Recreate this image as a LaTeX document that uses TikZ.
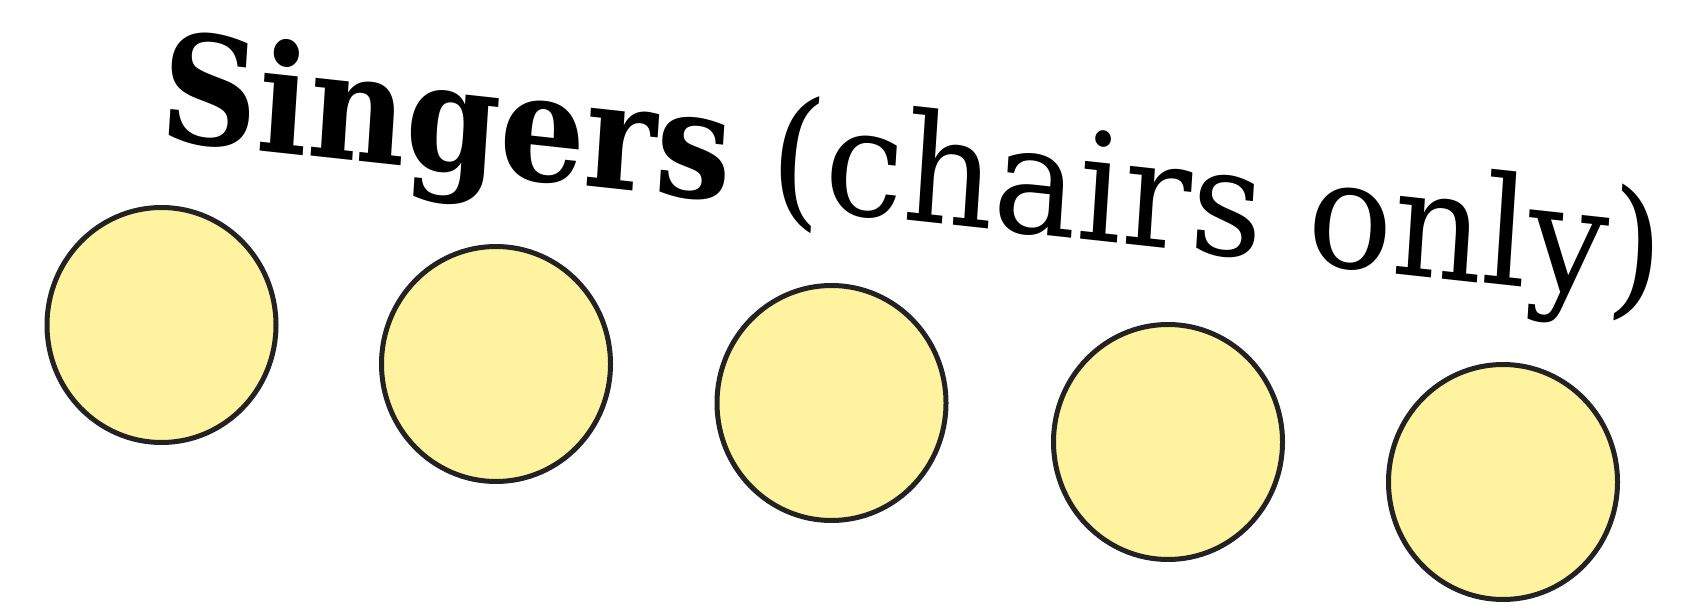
\documentclass[tikz,border=0pt]{standalone}
\usepackage{fontspec}
\setmainfont{DejaVu Serif}
\usetikzlibrary{shapes.geometric}
\definecolor{seatfill}{HTML}{FFF3A0}
\definecolor{seatline}{HTML}{222222}
\tikzset{
  seat/.style={ellipse, draw=seatline, fill=seatfill, line width=5pt,
    minimum width=229pt, minimum height=235pt, inner sep=0pt},
  titletext/.style={transform shape, anchor=base west, inner sep=0pt,
    font=\fontsize{150}{150}\selectfont}
}
\begin{document}
\begin{tikzpicture}[x=1pt,y=-1pt]
\useasboundingbox (0,0) rectangle (1690,612);
\node[seat] (s1) at (161.5,325) {};
\node[seat] (s2) at (496,364) {};
\node[seat] (s3) at (831.5,403) {};
\node[seat] (s4) at (1168,442) {};
\node[seat] (s5) at (1503,482) {};
\begin{scope}[shift={(158,139.6)}, cm={0.8947,-0.0972,0.06453,0.99792,(0,0)}]
\node[titletext] (title) at (0,0) {\textbf{Singers}};
\end{scope}
\begin{scope}[shift={(767,205.4)}, cm={0.9395,-0.1021,0.06453,0.99792,(0,0)}]
\node[titletext] (note) at (0,0) {(chairs only)};
\end{scope}
\end{tikzpicture}
\end{document}
